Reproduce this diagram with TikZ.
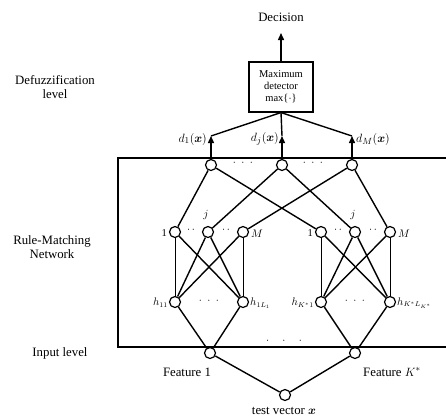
\documentclass[tikz,border=0pt]{standalone}
\usepackage{amsmath}
\usepackage{fontspec}
\setmainfont{Liberation Serif}
\usetikzlibrary{arrows.meta}
\begin{document}
\begin{tikzpicture}[x=1pt,y=-1pt,
  neuron/.style={circle,draw,line width=1.2pt,minimum size=11pt,inner sep=0pt,fill=white},
  conn/.style={line width=1.4pt},
  vconn/.style={line width=0.9pt},
  upar/.style={line width=1.4pt,-{Triangle[length=7pt,width=6pt]}},
  lbl/.style={font=\fontsize{12.8}{14}\selectfont,align=center,inner sep=0pt},
  sml/.style={font=\fontsize{10.5}{11}\selectfont,inner sep=0pt},
  dots/.style={font=\fontsize{11}{12}\selectfont,inner sep=0pt}]
\useasboundingbox (0,0) rectangle (446,418);

% network frame (open on the right: continues past the picture edge)
\draw[line width=1.1pt] (450,158) -- (118,158) -- (118,347) -- (450,347);

% defuzzification level
\node[draw,line width=1.1pt,minimum width=64pt,minimum height=50pt,align=center,
      font=\fontsize{10.5}{12}\selectfont,inner sep=1pt] (box) at (281,87)
      {Maximum\\detector\\max\{$\cdot$\}};
\coordinate (dec) at (281,33);
\node[lbl] (decision) at (281,17) {Decision};
\draw[upar] (box.north) -- (dec);

\node[neuron] (t1) at (211,165) {};
\node[neuron] (tj) at (282,165) {};
\node[neuron] (tm) at (352,165) {};
\coordinate (p1) at (211,136);
\coordinate (pj) at (282,136);
\coordinate (pm) at (352,136);
\draw[conn] (p1) -- (box.south) -- (pm);
\draw[conn] (box.south) -- (pj);
\draw[upar] (t1) -- (p1);
\draw[upar] (tj) -- (pj);
\draw[upar] (tm) -- (pm);
\node[lbl,anchor=east] (d1) at (207,139) {$d_1(\boldsymbol{x})$};
\node[lbl,anchor=east] (dj) at (279,139) {$d_j(\boldsymbol{x})$};
\node[lbl,anchor=west] (dm) at (356,139) {$d_M(\boldsymbol{x})$};
\node[dots] (tdots1) at (243,163) {$\cdot\;\cdot\;\cdot$};
\node[dots] (tdots2) at (313,163) {$\cdot\;\cdot\;\cdot$};

% rule layer
\node[neuron] (a1) at (175,232) {};
\node[neuron] (aj) at (208,232) {};
\node[neuron] (am) at (243,232) {};
\node[neuron] (b1) at (321,232) {};
\node[neuron] (bj) at (355,232) {};
\node[neuron] (bm) at (390,232) {};
\node[sml,anchor=east] (la1) at (167,233) {1};
\node[sml,anchor=east] (lb1) at (313,233) {1};
\node[sml] (laj) at (206,215) {$j$};
\node[sml] (lbj) at (353,215) {$j$};
\node[sml,anchor=west] (lam) at (251,234) {$M$};
\node[sml,anchor=west] (lbm) at (398,234) {$M$};
\node[dots] (ad1) at (191,230) {$\cdot\,\cdot$};
\node[dots] (ad2) at (226,230) {$\cdot\,\cdot$};
\node[dots] (bd1) at (338,230) {$\cdot\,\cdot$};
\node[dots] (bd2) at (373,230) {$\cdot\,\cdot$};

\draw[conn] (t1) -- (a1);
\draw[conn] (t1) -- (b1);
\draw[conn] (tj) -- (aj);
\draw[conn] (tj) -- (bj);
\draw[conn] (tm) -- (am);
\draw[conn] (tm) -- (bm);

% membership layer
\node[neuron] (h1) at (175,302) {};
\node[neuron] (h2) at (243,302) {};
\node[neuron] (h3) at (321,302) {};
\node[neuron] (h4) at (390,302) {};
\node[sml,anchor=east] (lh1) at (168,303) {$h_{11}$};
\node[sml,anchor=west] (lh2) at (250,303) {$h_{1L_1}$};
\node[sml,anchor=east] (lh3) at (314,303) {$h_{K^*1}$};
\node[sml,anchor=west] (lh4) at (397,303) {$h_{K^*L_{K^*}}$};
\node[dots] (hd1) at (209,301) {$\cdot\;\cdot\;\cdot$};
\node[dots] (hd2) at (355,301) {$\cdot\;\cdot\;\cdot$};

\draw[vconn] (a1) -- (h1);
\draw[conn] (a1) -- (h2);
\draw[conn] (aj) -- (h1);
\draw[conn] (aj) -- (h2);
\draw[conn] (am) -- (h1);
\draw[vconn] (am) -- (h2);
\draw[vconn] (b1) -- (h3);
\draw[conn] (b1) -- (h4);
\draw[conn] (bj) -- (h3);
\draw[conn] (bj) -- (h4);
\draw[conn] (bm) -- (h3);
\draw[vconn] (bm) -- (h4);

% input level
\node[neuron] (f1) at (210,353) {};
\node[neuron] (fk) at (355,353) {};
\node[neuron] (tv) at (285,395) {};
\draw[conn] (h1) -- (f1);
\draw[conn] (h2) -- (f1);
\draw[conn] (h3) -- (fk);
\draw[conn] (h4) -- (fk);
\draw[conn] (f1) -- (tv);
\draw[conn] (fk) -- (tv);
\node[dots] (fd) at (284,341) {$\cdot\quad\cdot\quad\cdot$};
\node[lbl] (lf1) at (187,372) {Feature 1};
\node[lbl] (lfk) at (392,372) {Feature $K^*$};
\node[lbl] (ltv) at (284,411) {test vector $\boldsymbol{x}$};

% level labels
\node[lbl] (ldef) at (55,87) {Defuzzification\\level};
\node[lbl] (lrule) at (52,247) {Rule-Matching\\Network};
\node[lbl] (lin) at (60,353) {Input level};
\end{tikzpicture}
\end{document}
